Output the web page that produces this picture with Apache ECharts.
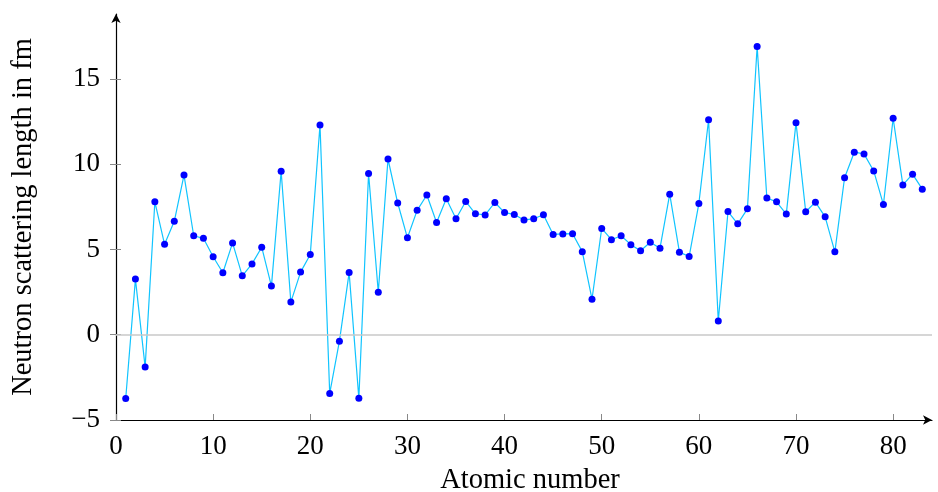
<!DOCTYPE html>
<html>
<head>
<meta charset="utf-8">
<script src="https://cdn.jsdelivr.net/npm/echarts@6/dist/echarts.min.js"></script>
<style>
html,body{margin:0;padding:0;background:#fff;}
#chart{width:938px;height:492px;}
</style>
</head>
<body>
<div id="chart"></div>
<script>
const atomicNumbers = [1,2,3,4,5,6,7,8,9,10,11,12,13,14,15,16,17,18,19,20,
  21,22,23,24,25,26,27,28,29,30,31,32,33,34,35,36,37,38,39,40,
  41,42,43,44,45,46,47,48,49,50,51,52,53,54,55,56,57,58,59,60,
  61,62,63,64,65,66,67,68,69,70,71,72,73,74,75,76,77,78,79,80,
  81,82,83];
const scatteringLengths = [-3.74,3.26,-1.90,7.79,5.30,6.65,9.36,5.80,5.65,4.57,
  3.63,5.38,3.45,4.15,5.13,2.85,9.58,1.91,3.67,4.70,
  12.29,-3.44,-0.38,3.64,-3.73,9.45,2.49,10.3,7.72,5.68,
  7.29,8.19,6.58,7.97,6.80,7.81,7.09,7.02,7.75,7.16,
  7.05,6.72,6.8,7.03,5.88,5.91,5.92,4.87,2.08,6.23,
  5.57,5.80,5.28,4.92,5.42,5.07,8.24,4.84,4.58,7.69,
  12.6,0.80,7.22,6.5,7.38,16.9,8.01,7.79,7.07,12.43,
  7.21,7.77,6.91,4.86,9.2,10.7,10.6,9.60,7.63,12.69,
  8.78,9.41,8.53];
const xTickValues = [0,10,20,30,40,50,60,70,80];
const yTickValues = [-5,0,5,10,15];
const xTitle = 'Atomic number';
const yTitle = 'Neutron scattering length in fm';

const seriesData = atomicNumbers.map((z, i) => [z, scatteringLengths[i]]);
const fmt = v => (v < 0 ? '\u2212' + (-v) : String(v));
const FONT = 'Liberation Serif';

const chart = echarts.init(document.getElementById('chart'), null, {renderer: 'canvas'});
chart.setOption({
  animation: false,
  backgroundColor: '#ffffff',
  grid: {left: 116, right: 6, top: 14, bottom: 72, containLabel: false, outerBoundsMode: 'none'},
  xAxis: [{
    type: 'value', min: 0, max: 84,
    name: xTitle, nameLocation: 'middle', nameGap: 46,
    nameTextStyle: {fontFamily: FONT, fontSize: 28.5, color: '#000', padding: [0, 0, 0, 12]},
    axisLine: {show: true, onZero: false, symbol: ['none', 'arrow'], symbolSize: [7, 9],
      lineStyle: {color: '#000', width: 1.2}},
    axisTick: {show: true, inside: true, length: 6, customValues: xTickValues,
      lineStyle: {color: '#888', width: 1}},
    axisLabel: {customValues: xTickValues, formatter: fmt, margin: 13,
      fontFamily: FONT, fontSize: 27, color: '#000'},
    splitLine: {show: false}
  }],
  yAxis: [{
    type: 'value', min: -5, max: 18.8,
    name: yTitle, nameLocation: 'middle', nameGap: 78, nameRotate: 90,
    nameTextStyle: {fontFamily: FONT, fontSize: 28.5, color: '#000'},
    axisLine: {show: true, onZero: false, symbol: ['none', 'arrow'], symbolSize: [7, 9],
      lineStyle: {color: '#000', width: 1.2}},
    axisTick: {show: true, inside: false, length: 6, customValues: yTickValues,
      lineStyle: {color: '#888', width: 1}},
    axisLabel: {customValues: yTickValues, formatter: fmt, margin: 16,
      fontFamily: FONT, fontSize: 27, color: '#000'},
    splitLine: {show: false}
  }, {
    type: 'value', min: -5, max: 18.8, position: 'left', offset: 0,
    axisLine: {show: false},
    axisTick: {show: true, inside: true, length: 5, customValues: yTickValues,
      lineStyle: {color: '#888', width: 1}},
    axisLabel: {show: false},
    splitLine: {show: false}
  }],
  series: [{
    type: 'line',
    data: seriesData,
    xAxisIndex: 0, yAxisIndex: 0,
    symbol: 'circle', symbolSize: 7,
    showSymbol: true,
    lineStyle: {color: '#10c4ff', width: 1.2},
    itemStyle: {color: '#0000ff', borderWidth: 0},
    z: 3,
    markLine: {
      silent: true, symbol: ['none', 'none'], label: {show: false},
      lineStyle: {color: '#c8c8c8', width: 1.5, type: 'solid'},
      data: [{yAxis: 0}]
    }
  }]
});
</script>
</body>
</html>
